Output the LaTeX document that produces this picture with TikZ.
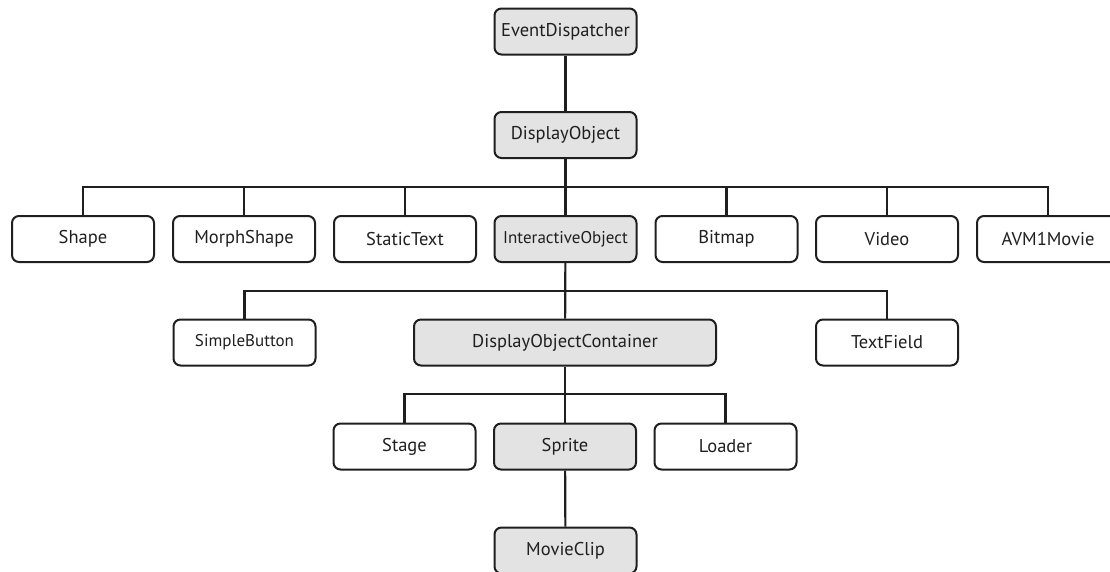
\documentclass[tikz,border=0pt]{standalone}
\usepackage{fontspec}
\setmainfont{PT Sans}
\begin{document}
\begin{tikzpicture}[x=1pt,y=-1pt,
  cls/.style={draw=black!88, line width=2pt, rounded corners=7pt, minimum width=142pt, minimum height=46pt, inner sep=0pt, font=\fontsize{18.5}{20}\selectfont, text=black!88},
  hl/.style={cls, fill=black!11},
  link/.style={draw=black!88, line width=2.2pt}]
\useasboundingbox (0,0) rectangle (1110,571);
\node[hl] (ed) at (565.5,31.5) {EventDispatcher};
\node[hl] (do) at (565.5,135) {DisplayObject};
\node[cls] (shape) at (83,239) {Shape};
\node[cls] (morph) at (244,239) {MorphShape};
\node[cls] (static) at (405,239) {StaticText};
\node[hl, font=\fontsize{17}{20}\selectfont] (io) at (565.5,239) {InteractiveObject};
\node[cls] (bitmap) at (726.5,239) {Bitmap};
\node[cls] (video) at (887,239) {Video};
\node[cls] (avm) at (1048,239) {AVM1Movie};
\node[cls, font=\fontsize{17}{20}\selectfont] (sb) at (244.5,342.5) {SimpleButton};
\node[hl, minimum width=302pt] (doc) at (565,342.5) {DisplayObjectContainer};
\node[cls] (tf) at (887,342.5) {TextField};
\node[cls] (stage) at (404.5,446.5) {Stage};
\node[hl] (sprite) at (565,446.5) {Sprite};
\node[cls] (loader) at (725.5,446.5) {Loader};
\node[hl] (mc) at (565.5,550.5) {MovieClip};
\coordinate (b1) at (565.5,187);
\coordinate (b2) at (565,291);
\coordinate (b3) at (565,394);
\draw[link] (ed) -- (do);
\draw[link] (do) -- (io);
\draw[link] (shape.north) |- (b1) -| (avm.north);
\foreach \n in {morph,static,bitmap,video} \draw[link] (\n.north) -- (\n.north |- b1);
\draw[link] (io) -- (doc);
\draw[link] (sb.north) |- (b2) -| (tf.north);
\draw[link] (doc) -- (sprite);
\draw[link] (stage.north) |- (b3) -| (loader.north);
\draw[link] (sprite) -- (mc);
\end{tikzpicture}
\end{document}
